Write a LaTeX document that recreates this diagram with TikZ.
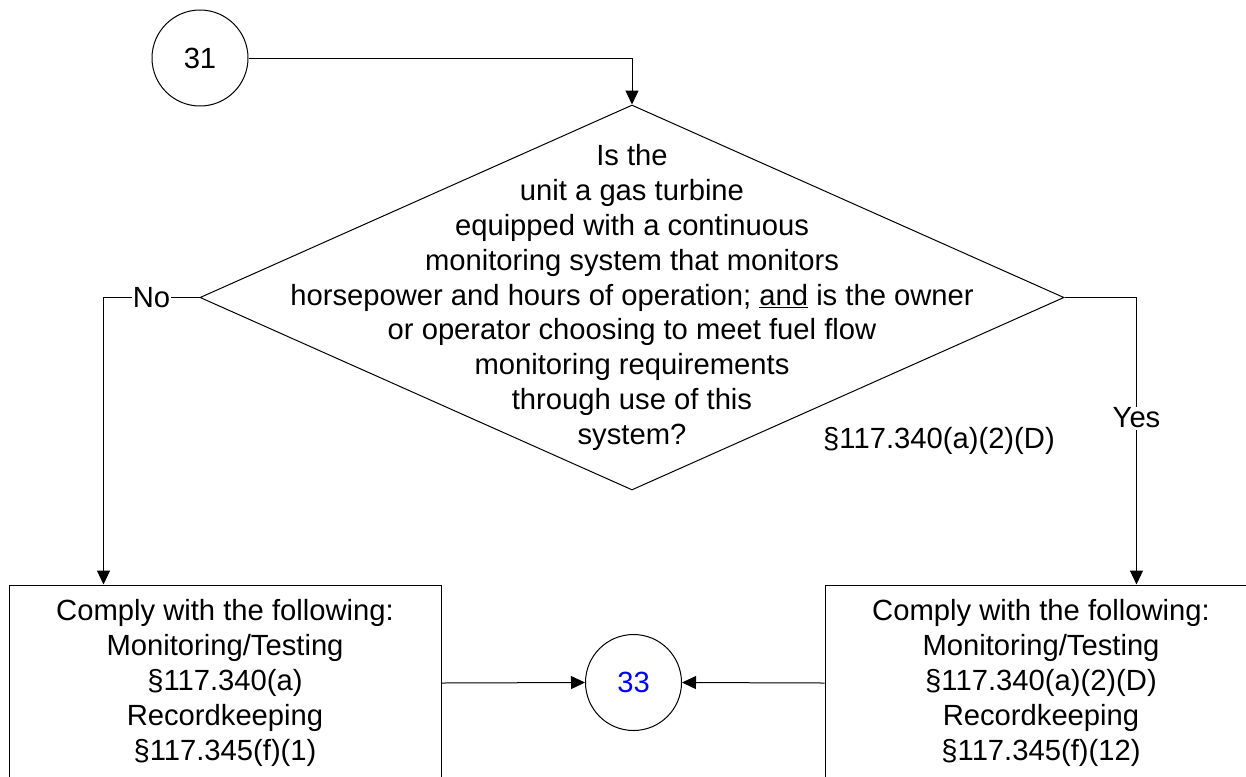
\documentclass[tikz,border=0pt]{standalone}
\usepackage{fontspec}
\setmainfont{Liberation Sans}
\usetikzlibrary{arrows.meta,shapes.geometric}
\begin{document}
\begin{tikzpicture}[x=0.75pt,y=-0.75pt,
  every node/.style={font=\fontsize{21.9pt}{26.2pt}\selectfont},
  conn/.style={draw,line width=0.75pt},
  arr/.style={conn,-{Triangle[length=10.5pt,width=9.75pt]}},
  circ/.style={circle,draw,line width=0.75pt,minimum size=72pt,inner sep=0pt},
  decision/.style={shape=diamond,draw,line width=0.75pt,minimum width=648pt,minimum height=288.75pt,inner sep=0pt},
  box/.style={rectangle,draw,line width=0.75pt,minimum width=324pt,minimum height=147pt,align=center,inner sep=0pt},
  lbl/.style={fill=white,inner sep=1pt}]
\useasboundingbox (0,0) rectangle (1246,776);
\node[circ] (c31) at (200,58) {31};
\node[decision] (d) at (632,297.5) {};
\node[align=center] (dt) at (632,297.5) {Is the\\unit a gas turbine\\equipped with a continuous\\monitoring system that monitors\\horsepower and hours of operation; \underline{and} is the owner\\or operator choosing to meet fuel flow\\monitoring requirements\\through use of this\\system?};
\node (ref) at (939,441) {§117.340(a)(2)(D)};
\node[box] (b1) at (225,683) {Comply with the following:\\Monitoring/Testing\\§117.340(a)\\Recordkeeping\\§117.345(f)(1)};
\node[box] (b2) at (1041,683) {Comply with the following:\\Monitoring/Testing\\§117.340(a)(2)(D)\\Recordkeeping\\§117.345(f)(12)};
\node[circ,text={rgb,255:red,0;green,0;blue,255}] (c33) at (633.5,682.5) {33};
\coordinate (noend) at ([xshift=71.25pt]b1.north west);
\coordinate (yesend) at ([xshift=234pt]b2.north west);
\draw[arr] (c31.east) -| (d.north);
\draw[arr] (d.west) -| node[lbl,pos=0.25] {No} (noend);
\draw[arr] (d.east) -| node[lbl,pos=0.71] {Yes} (yesend);
\draw[arr] (b1.east) -- (c33.west);
\draw[arr] (b2.west) -- (c33.east);
\end{tikzpicture}
\end{document}
